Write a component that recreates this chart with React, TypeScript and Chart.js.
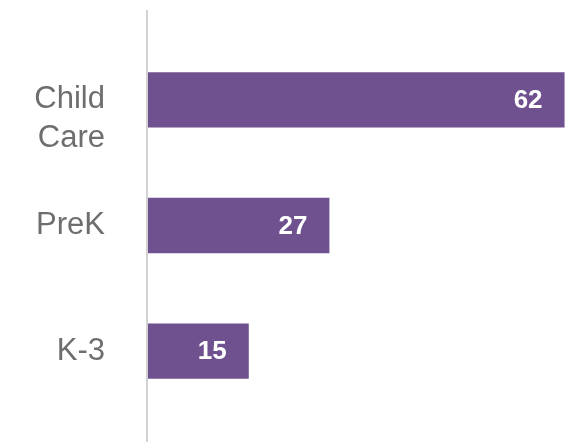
import React, { useEffect, useRef } from "react";
import { Chart, registerables } from "chart.js";

Chart.register(...registerables);

const categories: string[][] = [["", "Child", "Care"], ["PreK"], ["K-3"]];
const values: number[] = [62, 27, 15];
const xMax = 64;

const barColor = "#6f5190";

const axisLinePlugin = {
  id: "axisLine",
  afterDraw(chart: any) {
    const { ctx, chartArea, height } = chart;
    ctx.save();
    ctx.strokeStyle = "#d2d2d2";
    ctx.lineWidth = 2;
    ctx.beginPath();
    ctx.moveTo(chartArea.left - 1, 10);
    ctx.lineTo(chartArea.left - 1, height);
    ctx.stroke();
    ctx.restore();
  },
};

const valueLabelPlugin = {
  id: "valueLabels",
  afterDatasetsDraw(chart: any) {
    const { ctx } = chart;
    const meta = chart.getDatasetMeta(0);
    ctx.save();
    ctx.fillStyle = "#ffffff";
    ctx.font = "bold 26px 'Liberation Sans', Arial, sans-serif";
    ctx.textAlign = "right";
    ctx.textBaseline = "middle";
    meta.data.forEach((bar: any, i: number) => {
      ctx.fillText(String(values[i]), bar.x - 22, bar.y + 1);
    });
    ctx.restore();
  },
};

export default function App() {
  const ref = useRef<HTMLCanvasElement>(null);
  useEffect(() => {
    if (!ref.current) return;
    const chart = new Chart(ref.current, {
      type: "bar",
      data: {
        labels: categories,
        datasets: [
          {
            data: values,
            backgroundColor: barColor,
            borderWidth: 0,
            categoryPercentage: 1,
            barPercentage: 0.44,
          },
        ],
      },
      options: {
        indexAxis: "y",
        animation: false,
        responsive: false,
        maintainAspectRatio: false,
        layout: { padding: { top: 37, bottom: 28, left: 0, right: 0 } },
        plugins: { legend: { display: false }, tooltip: { enabled: false } },
        scales: {
          x: { display: false, min: 0, max: xMax },
          y: {
            grid: { display: false, drawTicks: false },
            border: { display: false },
            ticks: {
              padding: 43,
              color: "#6e6e6e",
              font: { family: "'Liberation Sans', Arial, sans-serif", size: 31, lineHeight: 1.24 },
            },
            afterFit(scale: any) {
              scale.width = 148;
              scale.paddingTop = 0;
              scale.paddingBottom = 0;
            },
          },
        },
      },
      plugins: [axisLinePlugin, valueLabelPlugin],
    });
    return () => chart.destroy();
  }, []);
  return (
    <div style={{ position: "fixed", left: 0, top: 0, width: 578, height: 442, background: "#fff" }}>
      <canvas ref={ref} width={578} height={442} style={{ display: "block" }} />
    </div>
  );
}
